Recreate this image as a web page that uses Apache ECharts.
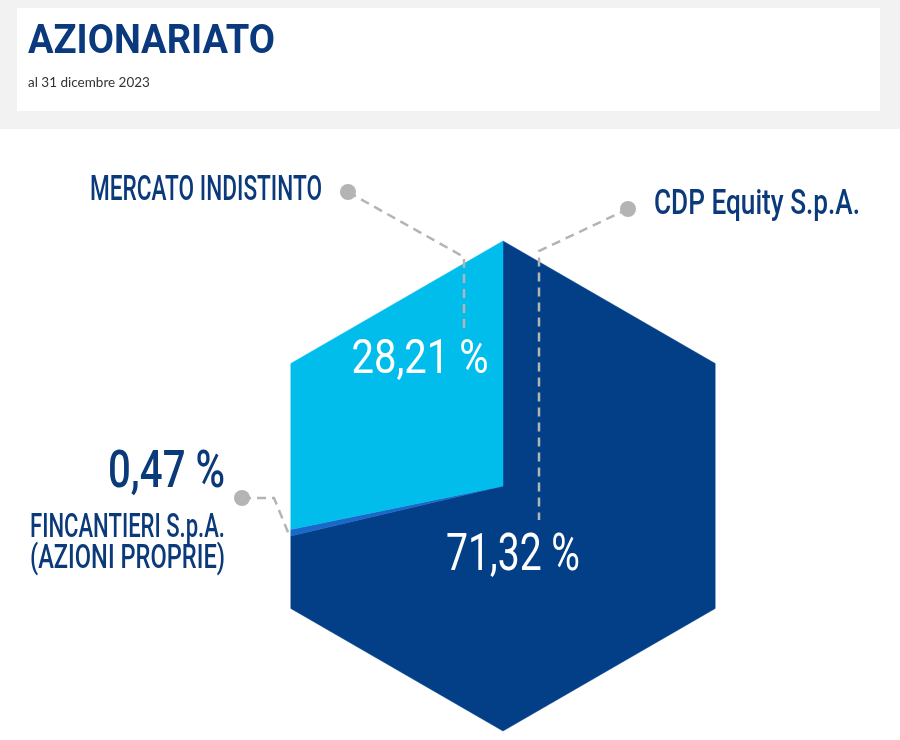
<!DOCTYPE html>
<html>
<head>
<meta charset="utf-8">
<script src="https://cdn.jsdelivr.net/npm/echarts@6/dist/echarts.min.js"></script>
<style>
html,body{margin:0;padding:0;background:#fff;}
#chart{width:900px;height:740px;}
</style>
</head>
<body>
<div id="chart"></div>
<script>
// ---- data ----
const categories = ['CDP Equity S.p.A.', 'FINCANTIERI S.p.A.', 'MERCATO INDISTINTO'];
const shares = [71.32, 0.47, 28.21];
const subLabel = '(AZIONI PROPRIE)';
const titleText = 'AZIONARIATO';
const subtitleText = 'al 31 dicembre 2023';

// ---- styles / layout ----
const sliceColors = ['#023f86', '#1a68c8', '#00bdec'];
const textBlue = '#0b3a7a';
const dashGray = '#b4b4b4';
const CX = 503, CY = 486, R = 245;

const fmt = v => v.toFixed(2).replace('.', ',') + ' %';
const total = shares.reduce((a, b) => a + b, 0);

const mctx = document.createElement('canvas').getContext('2d');
function scaleFor(text, size, weight, targetW) {
  mctx.font = (weight || 'normal') + ' ' + size + 'px Roboto';
  return targetW / mctx.measureText(text).width;
}
function label(text, x, y, size, targetW, align, color, weight) {
  weight = weight || '500';
  return {
    type: 'text', x: x, y: y, z: 20,
    scaleX: scaleFor(text, size, weight, targetW),
    style: {
      text: text, fill: color, font: weight + ' ' + size + 'px Roboto',
      textAlign: align, textVerticalAlign: 'middle'
    }
  };
}
function dashLine(points) {
  return { type: 'polyline', z: 15, shape: { points: points },
    style: { stroke: dashGray, lineWidth: 2.5, lineDash: [9, 6], fill: null } };
}
function dot(x, y) {
  return { type: 'circle', z: 16, shape: { cx: x, cy: y, r: 8 }, style: { fill: dashGray } };
}

function hexPoint(deg) {
  const local = ((deg % 60) + 60) % 60;
  const r = R * Math.cos(Math.PI / 6) / Math.cos((local - 30) * Math.PI / 180);
  const a = deg * Math.PI / 180;
  return [CX + r * Math.sin(a), CY - r * Math.cos(a)];
}

const chart = echarts.init(document.getElementById('chart'), null, { renderer: 'canvas' });

const option = {
  animation: false,
  graphic: [
    { type: 'rect', z: 0, shape: { x: 0, y: 0, width: 900, height: 129 }, style: { fill: '#f2f2f2' } },
    { type: 'rect', z: 1, shape: { x: 17, y: 8, width: 863, height: 103 }, style: { fill: '#ffffff' } },
    { type: 'text', z: 2, x: 28, y: 43, scaleX: scaleFor(titleText, 41, 'bold', 247),
      style: { text: titleText, fill: '#0a3a7d', font: 'bold 41px Roboto', textAlign: 'left', textVerticalAlign: 'middle' } },
    { type: 'text', z: 2, x: 28, y: 83,
      style: { text: subtitleText, fill: '#333333', font: 'normal 13.5px Lato', textAlign: 'left', textVerticalAlign: 'middle' } },

    // leader lines
    dashLine([[348, 192], [464, 257], [464, 333]]),
    dot(348, 192),
    dashLine([[628, 209], [539, 251], [539, 520]]),
    dot(628, 209),
    dashLine([[242, 498], [274, 498], [290, 537]]),
    dot(242, 498),

    // category labels
    label(categories[2], 90, 191, 35, 232, 'left', textBlue),
    label(categories[0], 654, 205, 35, 206, 'left', textBlue),
    label(fmt(shares[1]), 225, 474, 51, 117, 'right', textBlue),
    label(categories[1], 225, 528, 34, 195, 'right', textBlue),
    label(subLabel, 225, 559, 34, 195, 'right', textBlue),

    // in-slice values
    label(fmt(shares[2]), 420, 361, 49, 137, 'center', '#ffffff', 'normal'),
    label(fmt(shares[0]), 513, 557, 51, 134, 'center', '#ffffff', 'normal')
  ],
  series: [{
    type: 'custom',
    coordinateSystem: 'none',
    data: shares.map((v, i) => ({ value: v, name: categories[i] })),
    renderItem: function (params, api) {
      const i = params.dataIndex;
      let before = 0;
      for (let k = 0; k < i; k++) before += shares[k];
      const a0 = before / total * 360;
      const a1 = (before + api.value(0)) / total * 360;
      const pts = [[CX, CY], hexPoint(a0)];
      for (let v = Math.floor(a0 / 60) * 60 + 60; v < a1; v += 60) pts.push(hexPoint(v));
      pts.push(hexPoint(a1));
      return { type: 'polygon', shape: { points: pts }, style: { fill: sliceColors[i], stroke: sliceColors[i], lineWidth: 0.5 } };
    }
  }]
};
chart.setOption(option);
</script>
</body>
</html>
